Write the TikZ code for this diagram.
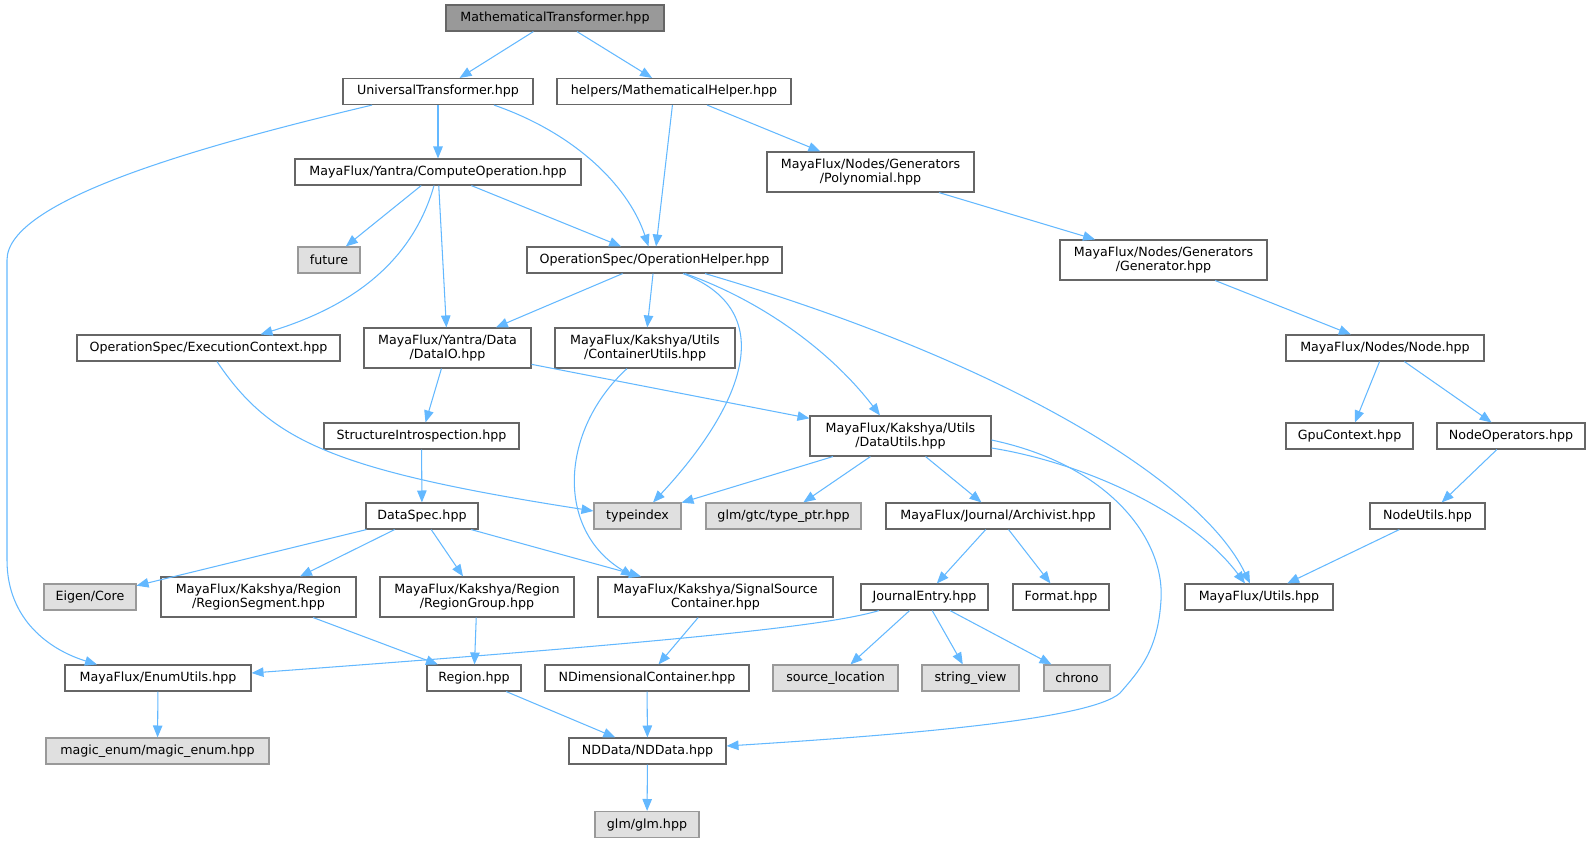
\documentclass[tikz,border=0pt]{standalone}
\usepackage{fontspec}
\setmainfont{DejaVu Sans}
\usepackage{xcolor}
\usetikzlibrary{arrows.meta,calc}

\definecolor{edgeblue}{HTML}{63B8FF}
\definecolor{boxline}{HTML}{666666}
\definecolor{sysline}{HTML}{999999}
\definecolor{sysfill}{HTML}{E0E0E0}
\definecolor{rootfill}{HTML}{999999}

\begin{document}
\begin{tikzpicture} [
       x=0.02cm, y=-0.02cm,
       font=\fontsize{7.2}{8.4}\selectfont,
       file/.style={draw=boxline, fill=white, line width=0.65pt,
               minimum height=0.52cm, inner xsep=2pt, inner ysep=1pt,
               align=center},
       twoline/.style={file, minimum height=0.8cm},
       sysfile/.style={file, draw=sysline, fill=sysfill},
       root/.style={file, fill=rootfill},
       dep/.style={draw=edgeblue, line width=0.6pt,
               -{Triangle[length=6.8pt,width=5.4pt]}},
       ]
       \useasboundingbox (0,0) rectangle (1591,843);
       % rank 0 - 2
       \node (mt) [root, minimum width=4.36cm] at (555,18) {MathematicalTransformer.hpp};
       \node (ut) [file, minimum width=3.80cm] at (438,91.5) {UniversalTransformer.hpp};
       \node (mhelper) [file, minimum width=4.68cm] at (674,91.5) {helpers/MathematicalHelper.hpp};
       \node (compop) [file, minimum width=5.72cm] at (438,172) {MayaFlux/Yantra/ComputeOperation.hpp};
       \node (poly) [twoline, minimum width=4.14cm] at (870.5,172) {MayaFlux/Nodes/Generators\\/Polynomial.hpp};
       % rank 3 - 5
       \node (future) [sysfile, minimum width=1.24cm] at (329,260) {future};
       \node (ophelper) [file, minimum width=5.10cm] at (654.5,260) {OperationSpec/OperationHelper.hpp};
       \node (gen) [twoline, minimum width=4.14cm] at (1163.5,260) {MayaFlux/Nodes/Generators\\/Generator.hpp};
       \node (exectx) [file, minimum width=5.26cm] at (208.5,348) {OperationSpec/ExecutionContext.hpp};
       \node (dataio) [twoline, minimum width=3.34cm] at (447.5,348) {MayaFlux/Yantra/Data\\/DataIO.hpp};
       \node (contutils) [twoline, minimum width=3.60cm] at (645,348) {MayaFlux/Kakshya/Utils\\/ContainerUtils.hpp};
       \node (node) [file, minimum width=3.96cm] at (1385,348) {MayaFlux/Nodes/Node.hpp};
       \node (structintro) [file, minimum width=3.90cm] at (421.5,436) {StructureIntrospection.hpp};
       \node (datautils) [twoline, minimum width=3.62cm] at (900.5,436) {MayaFlux/Kakshya/Utils\\/DataUtils.hpp};
       \node (gpuctx) [file, minimum width=2.54cm] at (1349.5,436) {GpuContext.hpp};
       \node (nodeops) [file, minimum width=2.96cm] at (1511,436) {NodeOperators.hpp};
       % rank 6 - 7
       \node (typeindex) [sysfile, minimum width=1.74cm] at (637.5,516) {typeindex};
       \node (typeptr) [sysfile, minimum width=3.10cm] at (783.5,516) {glm/gtc/type\_ptr.hpp};
       \node (dataspec) [file, minimum width=2.24cm] at (422,516) {DataSpec.hpp};
       \node (archivist) [file, minimum width=4.48cm] at (998,516) {MayaFlux/Journal/Archivist.hpp};
       \node (nodeutils) [file, minimum width=2.30cm] at (1427.5,516) {NodeUtils.hpp};
       \node (eigen) [sysfile, minimum width=1.84cm] at (90,597) {Eigen/Core};
       \node (regseg) [twoline, minimum width=3.90cm] at (258.5,597) {MayaFlux/Kakshya/Region\\/RegionSegment.hpp};
       \node (reggroup) [twoline, minimum width=3.88cm] at (477,597) {MayaFlux/Kakshya/Region\\/RegionGroup.hpp};
       \node (sigsrc) [twoline, minimum width=4.70cm] at (715.5,597) {MayaFlux/Kakshya/SignalSource\\Container.hpp};
       \node (jentry) [file, minimum width=2.54cm] at (924.5,597) {JournalEntry.hpp};
       \node (format) [file, minimum width=1.92cm] at (1061,597) {Format.hpp};
       \node (utils) [file, minimum width=2.96cm] at (1259,597) {MayaFlux/Utils.hpp};
       % rank 8 - 10
       \node (enumutils) [file, minimum width=3.72cm] at (158,678) {MayaFlux/EnumUtils.hpp};
       \node (region) [file, minimum width=1.88cm] at (474,678) {Region.hpp};
       \node (ndimcont) [file, minimum width=4.08cm] at (647,678) {NDimensionalContainer.hpp};
       \node (srcloc) [sysfile, minimum width=2.50cm] at (835.5,678) {source\_location};
       \node (strview) [sysfile, minimum width=1.94cm] at (970.5,678) {string\_view};
       \node (chrono) [sysfile, minimum width=1.32cm] at (1077,678) {chrono};
       \node (magicenum) [sysfile, minimum width=4.46cm] at (157.5,751) {magic\_enum/magic\_enum.hpp};
       \node (nddata) [file, minimum width=3.14cm] at (647.5,751) {NDData/NDData.hpp};
       \node (glm) [sysfile, minimum width=2.08cm] at (647,824.5) {glm/glm.hpp};
        \begin{scope}[every path/.style=dep]
        \path (mt) -- (ut);
        \path (mt) -- (mhelper);
        \path (ut) -- (compop);
        \path ($(ut.south)+(56,0)$) .. controls (580,135) and (630,190) .. ($(ophelper.north)+(-6,0)$);
        \path ($(ut.south)+(-66,0)$) .. controls (200,146) and (7,200) .. (7,260)
              -- (7,560) .. controls (7,620) and (50,650) .. ($(enumutils.north)+(-61,0)$);
        \path (mhelper) -- (ophelper);
        \path (mhelper) -- (poly);
        \path (poly) -- (gen);
        \path (gen) -- (node);
        \path (node) -- (gpuctx);
        \path (node) -- (nodeops);
        \path (nodeops) -- (nodeutils);
        \path (nodeutils) -- (utils);
        \path (compop) -- (future);
        \path ($(compop.south)+(-4,0)$) .. controls (410,270) and (340,310) .. ($(exectx.north)+(52,0)$);
        \path (compop) -- (dataio);
        \path (compop) -- (ophelper);
        \path (ophelper) -- (dataio);
        \path (ophelper) -- (contutils);
        \path ($(ophelper.south)+(28.5,0)$) .. controls (790,315) and (730,420) .. ($(typeindex.north)+(15.5,0)$);
        \path ($(ophelper.south)+(30.5,0)$) .. controls (760,300) and (830,350) .. ($(datautils.north)+(-20.5,0)$);
        \path ($(ophelper.south)+(50.5,0)$) .. controls (1000,360) and (1200,480) .. ($(utils.north)+(-9,0)$);
        \path ($(exectx.south)+(8.5,0)$) .. controls (270,440) and (330,470) .. ($(typeindex.west)+(0,-5)$);
        \path (dataio) -- (structintro);
        \path (dataio) -- (datautils);
        \path ($(contutils.south)+(-18,0)$) .. controls (560,430) and (555,530) .. ($(sigsrc.north)+(-82.5,0)$);
        \path (structintro) -- (dataspec);
        \path (datautils) -- (typeindex);
        \path (datautils) -- (typeptr);
        \path (datautils) -- (archivist);
        \path ($(datautils.east)+(0,4)$) .. controls (1110,465) and (1165,540) .. (1161,600)
              .. controls (1158,650) and (1140,670) .. (1120,693)
              .. controls (1090,720) and (900,735) .. ($(nddata.east)+(0,-5)$);
        \path ($(datautils.east)+(0,12)$) .. controls (1080,462) and (1190,510) .. ($(utils.north)+(-14,0)$);
        \path (dataspec) -- (eigen);
        \path (dataspec) -- (regseg);
        \path (dataspec) -- (reggroup);
        \path (dataspec) -- (sigsrc);
        \path (archivist) -- (jentry);
        \path (archivist) -- (format);
        \path ($(jentry.south)+(-45.5,0)$) .. controls (830,625) and (700,640) .. ($(enumutils.east)+(0,-5)$);
        \path (jentry) -- (srcloc);
        \path (jentry) -- (strview);
        \path (jentry) -- (chrono);
        \path (regseg) -- (region);
        \path (reggroup) -- (region);
        \path (sigsrc) -- (ndimcont);
        \path (enumutils) -- (magicenum);
        \path (region) -- (nddata);
        \path (ndimcont) -- (nddata);
        \path (nddata) -- (glm);
        \end{scope}
\end{tikzpicture}
\end{document}
